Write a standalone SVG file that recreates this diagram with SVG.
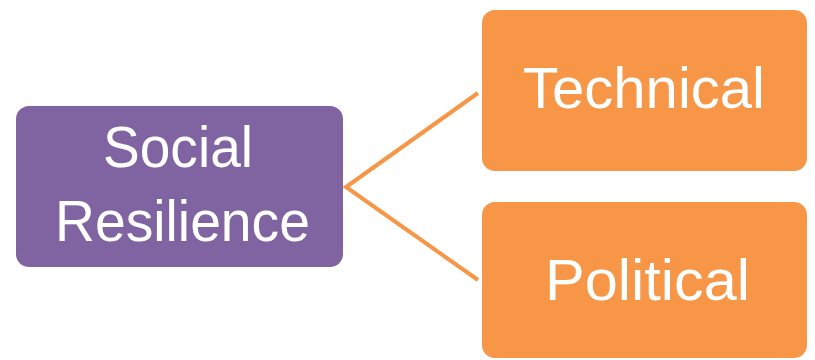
<svg xmlns="http://www.w3.org/2000/svg" width="815" height="360" viewBox="0 0 815 360">
  <style>
    .purple { fill: #8064A2; }
    .orange { fill: #F79646; }
    .label { fill: #FFFFFF; font-family: "Liberation Sans", Arial, sans-serif; font-size: 58px; text-anchor: middle; }
    .link { stroke: #F79646; stroke-width: 4; fill: none; }
  </style>
  <rect width="815" height="360" fill="#FFFFFF"/>
  <g id="connectors">
    <path class="link" d="M478,93 L346,187 L478,280"/>
  </g>
  <g id="social-resilience">
    <rect class="purple" x="16" y="106" width="327" height="161" rx="13"/>
    <text class="label" x="178" y="167" textLength="150" lengthAdjust="spacingAndGlyphs">Social</text>
    <text class="label" x="182.5" y="241" textLength="255" lengthAdjust="spacingAndGlyphs">Resilience</text>
  </g>
  <g id="technical">
    <rect class="orange" x="482" y="10" width="325" height="161" rx="13"/>
    <text class="label" x="644" y="108" textLength="242" lengthAdjust="spacingAndGlyphs">Technical</text>
  </g>
  <g id="political">
    <rect class="orange" x="482" y="202" width="325" height="156" rx="13"/>
    <text class="label" x="647.5" y="300" textLength="205" lengthAdjust="spacingAndGlyphs">Political</text>
  </g>
</svg>
